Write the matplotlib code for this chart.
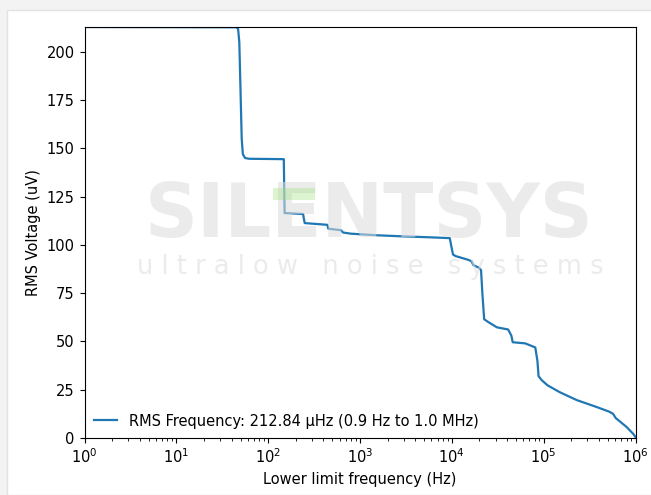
import matplotlib.pyplot as plt
from matplotlib.patches import Rectangle

# Integrated RMS voltage vs lower frequency limit
freq = [1, 45, 47, 48.5, 50, 51.5, 53, 56, 62, 148, 149.5, 151, 240, 246, 250, 440, 452, 620, 655,
        800, 1500, 3000, 6000, 9500, 9900, 10300, 11000, 15000, 16300, 17200, 19500, 20800,
        21500, 22500, 25000, 31000, 41000, 44500, 46000, 63000, 81000, 85500, 88000, 95000,
        110000, 150000, 230000, 380000, 520000, 570000, 610000, 800000, 950000, 1000000]
rms = [212.84, 212.7, 212.0, 205.0, 180.0, 155.0, 147.0, 145.0, 144.6, 144.4, 130.0, 116.5, 116.0,
       113.0, 111.3, 110.4, 108.4, 107.6, 106.4,
       105.8, 105.0, 104.4, 103.9, 103.5, 99.0, 95.0, 94.2, 92.3, 91.6, 89.5, 88.3, 87.0,
       75.0, 61.5, 60.0, 57.3, 56.2, 53.0, 49.6, 49.0, 46.9, 40.0, 32.0, 30.0,
       27.3, 23.7, 19.6, 16.0, 13.6, 12.5, 10.3, 5.7, 2.0, 0.5]

legend_label = "RMS Frequency: 212.84 µHz (0.9 Hz to 1.0 MHz)"

plt.rcParams['font.size'] = 10.5

fig = plt.figure(figsize=(6.51, 4.95), dpi=100)
fig.patch.set_facecolor('#f3f3f3')
# white card behind the plot
fig.patches.append(Rectangle((7 / 651, 0), 1, (495 - 10) / 495, transform=fig.transFigure,
                             facecolor='white', edgecolor='#e2e2e2', lw=1, zorder=-1))

ax = fig.add_axes([84.5 / 651, (495 - 438) / 495, 551 / 651, 411 / 495])
ax.plot(freq, rms, color='#1f77b4', lw=1.6, label=legend_label)
ax.set_xscale('log')
ax.set_xlim(1, 1e6)
ax.set_ylim(0, 212.84)
ax.set_xlabel("Lower limit frequency (Hz)")
ax.set_ylabel("RMS Voltage (uV)")
ax.legend(loc='lower left', frameon=False, handlelength=1.6, borderaxespad=0.25)

# watermark
fig.text(369 / 651, 1 - 217 / 495, "SILENTSYS", ha='center', va='center', fontsize=53,
         fontweight='bold', color='#dcdcdc', alpha=0.55, zorder=0)
fig.text(370 / 651, 1 - 267 / 495, "u l t r a l o w   n o i s e   s y s t e m s", ha='center',
         va='center', fontsize=18.5, color='#dcdcdc', alpha=0.55, zorder=0)
fig.patches.append(Rectangle((273 / 651, 1 - 200 / 495), 42 / 651, 12 / 495, transform=fig.transFigure,
                             facecolor='#9be07a', alpha=0.35, edgecolor='none', zorder=3))

fig.savefig('out.png', dpi=100)
